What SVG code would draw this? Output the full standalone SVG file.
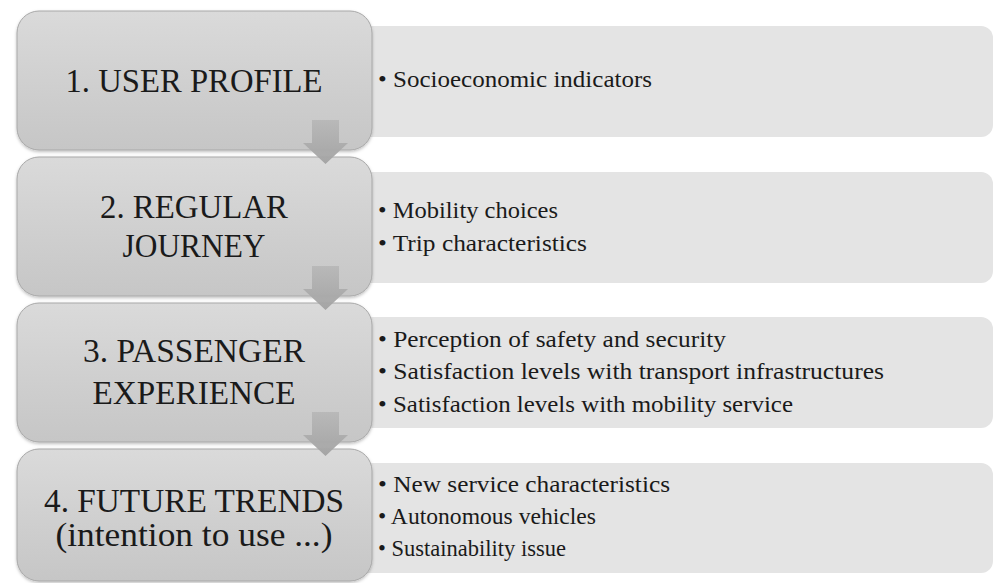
<svg xmlns="http://www.w3.org/2000/svg" width="995" height="583" viewBox="0 0 995 583">
<defs>
<linearGradient id="gL" x1="0" y1="0" x2="0" y2="1">
<stop offset="0" stop-color="#dadada"/>
<stop offset="1" stop-color="#c6c6c6"/>
</linearGradient>
<linearGradient id="gA" x1="0" y1="0" x2="0" y2="1">
<stop offset="0" stop-color="#b8b8b8"/>
<stop offset="1" stop-color="#a2a2a2"/>
</linearGradient>
<filter id="sh" x="-5%" y="-5%" width="110%" height="115%">
<feDropShadow dx="0" dy="1.5" stdDeviation="1.5" flood-color="#000" flood-opacity="0.25"/>
</filter>
<path id="arrow" d="M312,120 H339 V143 H348 L325.5,164 L303,143 H312 Z"/>
</defs>
<style>
text{font-family:'Liberation Serif','Tinos','Times New Roman','Noto Serif','DejaVu Serif','FreeSerif',Times,serif}
.lbox{fill:url(#gL);stroke:#a8a8a8;stroke-width:1;filter:url(#sh)}
.rbox{fill:#e4e4e4;stroke:none}
.ttl{font-size:34px;fill:#1a1a1a;text-anchor:middle}
.item{font-size:23px;fill:#1a1a1a}
.arr{fill:url(#gA);opacity:0.95}
</style>
<rect width="995" height="583" fill="#ffffff"/>

<g id="detail1">
<rect class="rbox" x="330" y="26" width="663" height="111" rx="12"/>
<text class="item" x="378" y="87" textLength="274" lengthAdjust="spacingAndGlyphs">• Socioeconomic indicators</text>
</g>
<g id="detail2">
<rect class="rbox" x="330" y="172" width="663" height="111" rx="12"/>
<text class="item" x="378" y="218" textLength="180" lengthAdjust="spacingAndGlyphs">• Mobility choices</text>
<text class="item" x="378" y="251" textLength="209" lengthAdjust="spacingAndGlyphs">• Trip characteristics</text>
</g>
<g id="detail3">
<rect class="rbox" x="330" y="317" width="663" height="111" rx="12"/>
<text class="item" x="378" y="347" textLength="348" lengthAdjust="spacingAndGlyphs">• Perception of safety and security</text>
<text class="item" x="378" y="379" textLength="506" lengthAdjust="spacingAndGlyphs">• Satisfaction levels with transport infrastructures</text>
<text class="item" x="378" y="412" textLength="415" lengthAdjust="spacingAndGlyphs">• Satisfaction levels with mobility service</text>
</g>
<g id="detail4">
<rect class="rbox" x="330" y="463" width="663" height="110" rx="12"/>
<text class="item" x="378" y="492" textLength="292" lengthAdjust="spacingAndGlyphs">• New service characteristics</text>
<text class="item" x="378" y="524" textLength="218" lengthAdjust="spacingAndGlyphs">• Autonomous vehicles</text>
<text class="item" x="378" y="556" textLength="188" lengthAdjust="spacingAndGlyphs">• Sustainability issue</text>
</g>

<g id="step1">
<rect class="lbox" x="17" y="11" width="355" height="139" rx="22"/>
<text class="ttl" x="194" y="92" textLength="257" lengthAdjust="spacingAndGlyphs">1. USER PROFILE</text>
</g>
<g id="step2">
<rect class="lbox" x="17" y="157" width="355" height="139" rx="22"/>
<text class="ttl" x="194" y="218" textLength="188" lengthAdjust="spacingAndGlyphs">2. REGULAR</text>
<text class="ttl" x="194" y="257" textLength="143" lengthAdjust="spacingAndGlyphs">JOURNEY</text>
</g>
<g id="step3">
<rect class="lbox" x="17" y="303" width="355" height="139" rx="22"/>
<text class="ttl" x="194" y="362" textLength="222" lengthAdjust="spacingAndGlyphs">3. PASSENGER</text>
<text class="ttl" x="194" y="404" textLength="203" lengthAdjust="spacingAndGlyphs">EXPERIENCE</text>
</g>
<g id="step4">
<rect class="lbox" x="17" y="449" width="355" height="132" rx="22"/>
<text class="ttl" x="194" y="512" textLength="300" lengthAdjust="spacingAndGlyphs">4. FUTURE TRENDS</text>
<text class="ttl" x="194" y="546" textLength="277" lengthAdjust="spacingAndGlyphs">(intention to use ...)</text>
</g>

<g id="connectors">
<use class="arr" href="#arrow"/>
<use class="arr" href="#arrow" y="146"/>
<use class="arr" href="#arrow" y="292"/>
</g>
</svg>
